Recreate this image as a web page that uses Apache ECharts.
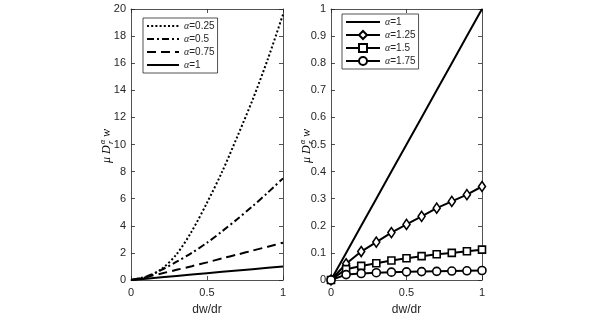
<!DOCTYPE html>
<html style="height: 100%">
<head>
    <meta charset="utf-8">
    <title>Fractional derivative</title>
</head>
<body style="height: 100%; margin: 0; background: #fff">
<div id="container" style="width: 598px; height: 321px"></div>
<script type="text/javascript" src="https://cdn.jsdelivr.net/npm/echarts@6/dist/echarts.min.js"></script>
<script type="text/javascript">
    // dw/dr sample points
    var xs = [0, 0.1, 0.2, 0.3, 0.4, 0.5, 0.6, 0.7, 0.8, 0.9, 1];

    // left panel
    var leftNames = ['α=0.25', 'α=0.5', 'α=0.75', 'α=1'];
    var a025 = [0, 0.2, 0.8, 1.9, 3.6, 5.7, 8.0, 10.6, 13.3, 16.3, 19.6];
    var a050 = [0, 0.25, 0.75, 1.35, 2.0, 2.75, 3.6, 4.5, 5.45, 6.45, 7.5];
    var a075 = [0, 0.22, 0.48, 0.75, 1.02, 1.3, 1.6, 1.88, 2.17, 2.46, 2.75];
    var a100 = [0, 0.1, 0.2, 0.3, 0.4, 0.5, 0.6, 0.7, 0.8, 0.9, 1];

    // right panel
    var rightNames = ['α=1', 'α=1.25', 'α=1.5', 'α=1.75'];
    var b100 = [0, 0.1, 0.2, 0.3, 0.4, 0.5, 0.6, 0.7, 0.8, 0.9, 1];
    var b125 = [0, 0.06, 0.105, 0.14, 0.175, 0.205, 0.235, 0.265, 0.29, 0.315, 0.345];
    var b150 = [0, 0.04, 0.052, 0.062, 0.072, 0.08, 0.088, 0.095, 0.1, 0.106, 0.112];
    var b175 = [0, 0.02, 0.024, 0.027, 0.029, 0.03, 0.031, 0.032, 0.033, 0.034, 0.035];

    var leftTicks = {min: 0, max: 20, interval: 2};
    var rightTicks = {min: 0, max: 1, interval: 0.1};
    var xTicks = {min: 0, max: 1, interval: 0.5};

    function pairs(ys) {
        return xs.map(function (x, i) { return [x, ys[i]]; });
    }

    var axisColor = '#262626';
    var sans = '"Liberation Sans", Arial, sans-serif';
    var serif = '"Liberation Serif", "DejaVu Serif", serif';

    function xAxisFor(grid, pos) {
        return {
            type: 'value', gridIndex: grid, position: pos,
            min: xTicks.min, max: xTicks.max, interval: xTicks.interval,
            name: pos === 'bottom' ? 'dw/dr' : '',
            nameLocation: 'middle', nameGap: 24,
            nameTextStyle: {fontFamily: sans, fontSize: 12, color: axisColor},
            axisLine: {show: true, onZero: false, lineStyle: {color: axisColor, width: 0.8}},
            axisTick: {show: true, inside: true, length: 4, lineStyle: {color: axisColor, width: 0.8}},
            axisLabel: {show: pos === 'bottom', fontFamily: sans, fontSize: 11, color: axisColor, margin: 7},
            splitLine: {show: false}
        };
    }

    function yAxisFor(grid, pos, t) {
        return {
            type: 'value', gridIndex: grid, position: pos,
            min: t.min, max: t.max, interval: t.interval,
            axisLine: {show: true, onZero: false, lineStyle: {color: axisColor, width: 0.8}},
            axisTick: {show: true, inside: true, length: 4, lineStyle: {color: axisColor, width: 0.8}},
            axisLabel: {show: pos === 'left', fontFamily: sans, fontSize: 11, color: axisColor, margin: 5},
            splitLine: {show: false}
        };
    }

    function lineSeries(name, ys, xi, yi, dash, extra) {
        var s = {
            name: name, type: 'line', data: pairs(ys),
            xAxisIndex: xi, yAxisIndex: yi,
            symbol: 'none', smooth: 0.3,
            lineStyle: {color: '#000', width: 2, type: dash},
            itemStyle: {color: '#fff', borderColor: '#000', borderWidth: 1.6}
        };
        for (var k in extra) s[k] = extra[k];
        return s;
    }

    var legendRich = {
        a: {fontFamily: serif, fontStyle: 'italic', fontSize: 10, color: axisColor},
        n: {fontFamily: sans, fontSize: 10, color: axisColor}
    };
    function legendText(name) {
        return '{a|α}{n|' + name.slice(1) + '}';
    }
    // legend entries of series without markers: hide the legend symbol
    var hidden = {color: 'rgba(0,0,0,0)', borderColor: 'rgba(0,0,0,0)', borderWidth: 0};
    function legendItems(names, marked) {
        return names.map(function (n, i) {
            return marked[i] ? {name: n} : {name: n, itemStyle: hidden};
        });
    }

    function yTitle(cx, cy) {
        var st = {fill: '#000', fontFamily: serif, fontStyle: 'italic'};
        function t(txt, x, y, size) {
            return {type: 'text', x: x, y: y, style: Object.assign({text: txt, fontSize: size, textVerticalAlign: 'middle'}, st)};
        }
        return {
            type: 'group', x: cx, y: cy, rotation: Math.PI / 2,
            children: [
                t('μ D', -16, 0, 12),
                t('α', 3, -4, 8),
                t('r', 3, 4, 8),
                t('w', 10, 0, 12)
            ]
        };
    }

    var dom = document.getElementById('container');
    var myChart = echarts.init(dom);

    var option = {
        animation: false,
        backgroundColor: '#fff',
        grid: [
            {left: 131, top: 9, width: 152, height: 276},
            {left: 331, top: 9, width: 151, height: 276}
        ],
        xAxis: [xAxisFor(0, 'bottom'), xAxisFor(0, 'top'), xAxisFor(1, 'bottom'), xAxisFor(1, 'top')],
        yAxis: [yAxisFor(0, 'left', leftTicks), yAxisFor(0, 'right', leftTicks),
                yAxisFor(1, 'left', rightTicks), yAxisFor(1, 'right', rightTicks)],
        legend: [
            {
                data: legendItems(leftNames, [false, false, false, false]),
                orient: 'vertical', left: 143, top: 18,
                itemWidth: 32, itemHeight: 10, itemGap: 3,
                padding: [3, 3, 3, 3], borderColor: axisColor, borderWidth: 0.8,
                backgroundColor: '#fff', selectedMode: false,
                formatter: legendText, textStyle: {rich: legendRich}
            },
            {
                data: legendItems(rightNames, [false, true, true, true]),
                orient: 'vertical', left: 342, top: 14,
                itemWidth: 34, itemHeight: 10, itemGap: 3,
                padding: [3, 3, 3, 3], borderColor: axisColor, borderWidth: 0.8,
                backgroundColor: '#fff', selectedMode: false,
                formatter: legendText, textStyle: {rich: legendRich}
            }
        ],
        graphic: [yTitle(107, 147), yTitle(307, 147)],
        series: [
            lineSeries(leftNames[0], a025, 0, 0, [2, 2.2]),
            lineSeries(leftNames[1], a050, 0, 0, [7, 3, 2, 3]),
            lineSeries(leftNames[2], a075, 0, 0, [9, 5]),
            lineSeries(leftNames[3], a100, 0, 0, 'solid', {smooth: false}),
            lineSeries(rightNames[0], b100, 2, 2, 'solid', {smooth: false}),
            lineSeries(rightNames[1], b125, 2, 2, 'solid', {smooth: false, symbol: 'diamond', symbolSize: [7, 10], showSymbol: true}),
            lineSeries(rightNames[2], b150, 2, 2, 'solid', {smooth: false, symbol: 'rect', symbolSize: 7, showSymbol: true}),
            lineSeries(rightNames[3], b175, 2, 2, 'solid', {smooth: false, symbol: 'circle', symbolSize: 8, showSymbol: true})
        ]
    };

    if (option && typeof option === "object") {
        myChart.setOption(option, true);
    }
</script>
</body>
</html>
